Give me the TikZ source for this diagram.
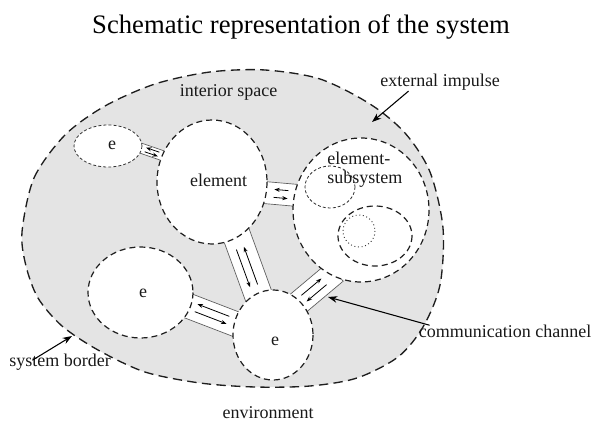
\documentclass[tikz,border=0pt]{standalone}
\usepackage{fontspec}
\setmainfont{Liberation Serif}
\usetikzlibrary{arrows.meta}

\tikzset{
  sysborder/.style={draw={rgb, 255:red, 30; green, 30; blue, 30 }, line width=1pt, dash pattern=on 7pt off 4pt, fill={rgb, 255:red, 228; green, 228; blue, 228 }},
  elemborder/.style={draw={rgb, 255:red, 30; green, 30; blue, 30 }, line width=0.9pt, dash pattern=on 4.5pt off 3pt, fill=white},
  fineborder/.style={draw={rgb, 255:red, 50; green, 50; blue, 50 }, line width=0.6pt, dash pattern=on 2.2pt off 1.6pt, fill=white},
  dotborder/.style={draw={rgb, 255:red, 50; green, 50; blue, 50 }, line width=0.7pt, dotted},
  chanline/.style={draw={rgb, 255:red, 90; green, 90; blue, 90 }, line width=0.5pt, fill=white},
  flow/.style={-{Stealth[length=4pt,width=3pt]}, line width=0.6pt},
  pointer/.style={-{Stealth[length=7pt,width=5pt]}, line width=0.8pt},
  lbl/.style={font=\fontsize{13.5}{14.25}\selectfont, inner sep=0pt, color={rgb, 255:red, 25; green, 25; blue, 25 }}
}

% channel box: x, y, angle, half length, half width
\newcommand{\chanbox}[5]{%
  \begin{scope}[shift={(#1,#2)},rotate=#3]
    \draw[chanline] (-#4,-#5) rectangle (#4,#5);
  \end{scope}}
% channel arrows: x, y, angle, half length, offset
\newcommand{\chanarrows}[5]{%
  \begin{scope}[shift={(#1,#2)},rotate=#3]
    \draw[flow] (#4,-#5) -- (-#4,-#5);
    \draw[flow] (-#4,#5) -- (#4,#5);
  \end{scope}}

\begin{document}
\begin{tikzpicture}[x=0.75pt,y=0.75pt,yscale=-1,xscale=1]
        \useasboundingbox (0,0) rectangle (592,423);
        % Shape: System border
        \draw[sysborder] plot[smooth cycle] coordinates {(22,232) (34,178) (65,135) (105,106) (155,84) (210,72) (265,70) (320,79) (370,104) (405,133) (430,172) (443,228) (440,285) (423,327) (398,357) (357,378) (310,386) (255,387) (200,383) (145,372) (98,350) (62,326) (38,298) (26,266)};
        % Channels
        \chanbox{152}{152}{19}{20}{5}
        \chanbox{281}{194}{5}{22}{11}
        \chanbox{247}{264}{70}{45}{14}
        \chanbox{212}{315}{21}{35}{12.5}
        \chanbox{314}{290}{-40}{28}{12}
        % Shape: Ellipse
        \draw[fineborder] (108,146) ellipse (34 and 21);
        % Shape: Ellipse
        \draw[elemborder] (212,182) ellipse (55 and 62);
        % Shape: Ellipse
        \draw[elemborder] (361,210) ellipse (68 and 72);
        % Shape: Ellipse
        \draw[fineborder] (330,187) ellipse (25 and 21);
        % Shape: Ellipse
        \draw[elemborder] (375,236) ellipse (37 and 30);
        % Shape: Circle
        \draw[dotborder] (359,231) circle (16);
        % Shape: Ellipse
        \draw[elemborder] (140.5,292.5) ellipse (52.5 and 45.5);
        % Shape: Ellipse
        \draw[elemborder] (273,335) ellipse (40 and 45);
        % Channel arrows
        \chanarrows{152}{152}{19}{7}{2.2}
        \chanarrows{281}{194}{5}{7}{4}
        \chanarrows{247}{267}{70}{20}{4}
        \chanarrows{212}{314}{21}{17}{4}
        \chanarrows{314}{290}{-40}{13}{-4}
        % Text Node
        \node[anchor=base, font=\fontsize{20}{24}\selectfont, inner sep=0pt] (title) at (301,34) {Schematic representation of the system};
        % Text Node
        \node[lbl, anchor=base] (interior) at (228.5,97) {interior space};
        % Text Node
        \node[lbl, anchor=base] (impulse) at (440,87) {external impulse};
        % Text Node
        \node[lbl, anchor=base] (elemtxt) at (218.5,187) {element};
        % Text Node
        \node[lbl, anchor=north west, align=left] (subtxt) at (327,152) {element-\\subsystem};
        % Text Node
        \node[lbl, anchor=base] (e1) at (112,150) {e};
        % Text Node
        \node[lbl, anchor=base] (e2) at (143,298) {e};
        % Text Node
        \node[lbl, anchor=base] (e3) at (275,346) {e};
        % Text Node
        \node[lbl, anchor=base] (channel) at (505,338) {communication channel};
        % Text Node
        \node[lbl, anchor=base] (border) at (60,367) {system border};
        % Text Node
        \node[lbl, anchor=base] (environment) at (268,418) {environment};
        % Pointers
        \coordinate (imptip) at (372,122);
        \coordinate (chantip) at (328,297);
        \coordinate (bordertip) at (72,336);
        \draw[pointer] (impulse.195) -- (imptip);
        \draw[pointer] (channel.175) -- (chantip);
        \draw[pointer] ([yshift=4.5pt]border.163) -- (bordertip);
    \end{tikzpicture}
\end{document}
